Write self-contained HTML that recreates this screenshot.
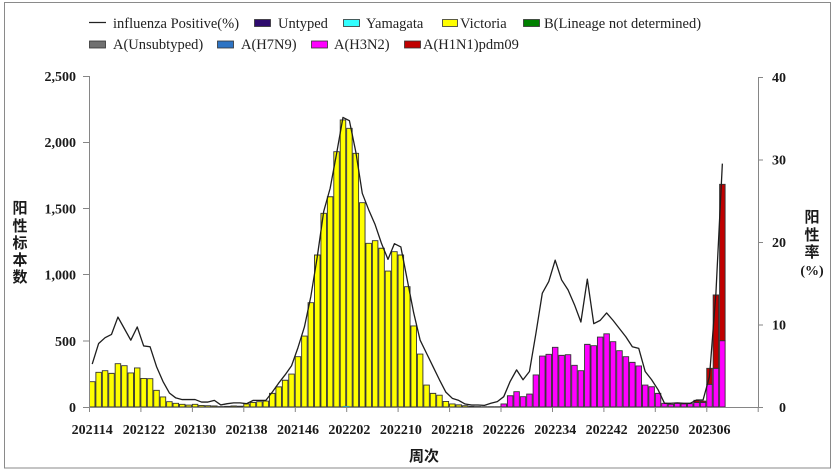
<!DOCTYPE html>
<html>
<head>
<meta charset="utf-8">
<style>
html,body{margin:0;padding:0;background:#fff;}
svg{display:block;}
.t{font-family:"Liberation Serif","Noto Serif CJK SC",serif;font-weight:bold;font-size:14px;fill:#1a1a1a;}
.lg{font-family:"Liberation Serif","Noto Serif CJK SC",serif;font-size:14.5px;fill:#222;}
.cj{font-family:"Liberation Sans","Noto Sans CJK SC",sans-serif;font-weight:bold;font-size:15px;fill:#1a1a1a;}
</style>
</head>
<body>
<svg width="835" height="473" viewBox="0 0 835 473" xmlns="http://www.w3.org/2000/svg">
<rect x="0" y="0" width="835" height="473" fill="#fff"/>
<rect x="4.5" y="2.5" width="826" height="465.5" fill="none" stroke="#8a8a8a" stroke-width="1"/>

<line x1="89" y1="22.5" x2="106" y2="22.5" stroke="#222" stroke-width="1.3"/>
<text class="lg" x="113" y="28">influenza Positive(%)</text>
<rect x="254.5" y="19.5" width="16" height="7" fill="#2e0b6e" stroke="#333" stroke-width="0.8"/>
<text class="lg" x="278" y="28">Untyped</text>
<rect x="343.5" y="19.5" width="16" height="7" fill="#33ffff" stroke="#333" stroke-width="0.8"/>
<text class="lg" x="366" y="28">Yamagata</text>
<rect x="442.5" y="19.5" width="15" height="7" fill="#ffff00" stroke="#333" stroke-width="0.8"/>
<text class="lg" x="460" y="28">Victoria</text>
<rect x="523.5" y="19.5" width="16" height="7" fill="#008000" stroke="#333" stroke-width="0.8"/>
<text class="lg" x="544" y="28">B(Lineage not determined)</text>

<rect x="89.5" y="41" width="16" height="7" fill="#707070" stroke="#333" stroke-width="0.8"/>
<text class="lg" x="113" y="49">A(Unsubtyped)</text>
<rect x="217.5" y="41" width="16" height="7" fill="#2e74c4" stroke="#333" stroke-width="0.8"/>
<text class="lg" x="241" y="49">A(H7N9)</text>
<rect x="311.5" y="41" width="16" height="7" fill="#ff00ff" stroke="#333" stroke-width="0.8"/>
<text class="lg" x="334" y="49">A(H3N2)</text>
<rect x="404.5" y="41" width="16" height="7" fill="#c00000" stroke="#333" stroke-width="0.8"/>
<text class="lg" x="423" y="49">A(H1N1)pdm09</text>

<g transform="translate(89,407) scale(6.43,-0.1324)" stroke="#333" stroke-width="0.9">
<g fill="#ffff00">
<rect vector-effect="non-scaling-stroke" x="0.07" y="0" width="0.86" height="191"/>
<rect vector-effect="non-scaling-stroke" x="1.07" y="0" width="0.86" height="262"/>
<rect vector-effect="non-scaling-stroke" x="2.07" y="0" width="0.86" height="274"/>
<rect vector-effect="non-scaling-stroke" x="3.07" y="0" width="0.86" height="254"/>
<rect vector-effect="non-scaling-stroke" x="4.07" y="0" width="0.86" height="327"/>
<rect vector-effect="non-scaling-stroke" x="5.07" y="0" width="0.86" height="312"/>
<rect vector-effect="non-scaling-stroke" x="6.07" y="0" width="0.86" height="257"/>
<rect vector-effect="non-scaling-stroke" x="7.07" y="0" width="0.86" height="295"/>
<rect vector-effect="non-scaling-stroke" x="8.07" y="0" width="0.86" height="216"/>
<rect vector-effect="non-scaling-stroke" x="9.07" y="0" width="0.86" height="214"/>
<rect vector-effect="non-scaling-stroke" x="10.07" y="0" width="0.86" height="126"/>
<rect vector-effect="non-scaling-stroke" x="11.07" y="0" width="0.86" height="76"/>
<rect vector-effect="non-scaling-stroke" x="12.07" y="0" width="0.86" height="40"/>
<rect vector-effect="non-scaling-stroke" x="13.07" y="0" width="0.86" height="28"/>
<rect vector-effect="non-scaling-stroke" x="14.07" y="0" width="0.86" height="20"/>
<rect vector-effect="non-scaling-stroke" x="15.07" y="0" width="0.86" height="15"/>
<rect vector-effect="non-scaling-stroke" x="16.07" y="0" width="0.86" height="20"/>
<rect vector-effect="non-scaling-stroke" x="17.07" y="0" width="0.86" height="12"/>
<rect vector-effect="non-scaling-stroke" x="18.07" y="0" width="0.86" height="10"/>
<rect vector-effect="non-scaling-stroke" x="19.07" y="0" width="0.86" height="8"/>
<rect vector-effect="non-scaling-stroke" x="20.07" y="0" width="0.86" height="3"/>
<rect vector-effect="non-scaling-stroke" x="21.07" y="0" width="0.86" height="5"/>
<rect vector-effect="non-scaling-stroke" x="22.07" y="0" width="0.86" height="8"/>
<rect vector-effect="non-scaling-stroke" x="23.07" y="0" width="0.86" height="6"/>
<rect vector-effect="non-scaling-stroke" x="24.07" y="0" width="0.86" height="23"/>
<rect vector-effect="non-scaling-stroke" x="25.07" y="0" width="0.86" height="35"/>
<rect vector-effect="non-scaling-stroke" x="26.07" y="0" width="0.86" height="40"/>
<rect vector-effect="non-scaling-stroke" x="27.07" y="0" width="0.86" height="45"/>
<rect vector-effect="non-scaling-stroke" x="28.07" y="0" width="0.86" height="103"/>
<rect vector-effect="non-scaling-stroke" x="29.07" y="0" width="0.86" height="152"/>
<rect vector-effect="non-scaling-stroke" x="30.07" y="0" width="0.86" height="202"/>
<rect vector-effect="non-scaling-stroke" x="31.07" y="0" width="0.86" height="249"/>
<rect vector-effect="non-scaling-stroke" x="32.07" y="0" width="0.86" height="380"/>
<rect vector-effect="non-scaling-stroke" x="33.07" y="0" width="0.86" height="536"/>
<rect vector-effect="non-scaling-stroke" x="34.07" y="0" width="0.86" height="788"/>
<rect vector-effect="non-scaling-stroke" x="35.07" y="0" width="0.86" height="1148"/>
<rect vector-effect="non-scaling-stroke" x="36.07" y="0" width="0.86" height="1463"/>
<rect vector-effect="non-scaling-stroke" x="37.07" y="0" width="0.86" height="1588"/>
<rect vector-effect="non-scaling-stroke" x="38.07" y="0" width="0.86" height="1928"/>
<rect vector-effect="non-scaling-stroke" x="39.07" y="0" width="0.86" height="2168"/>
<rect vector-effect="non-scaling-stroke" x="40.07" y="0" width="0.86" height="2105"/>
<rect vector-effect="non-scaling-stroke" x="41.07" y="0" width="0.86" height="1916"/>
<rect vector-effect="non-scaling-stroke" x="42.07" y="0" width="0.86" height="1543"/>
<rect vector-effect="non-scaling-stroke" x="43.07" y="0" width="0.86" height="1236"/>
<rect vector-effect="non-scaling-stroke" x="44.07" y="0" width="0.86" height="1256"/>
<rect vector-effect="non-scaling-stroke" x="45.07" y="0" width="0.86" height="1199"/>
<rect vector-effect="non-scaling-stroke" x="46.07" y="0" width="0.86" height="1027"/>
<rect vector-effect="non-scaling-stroke" x="47.07" y="0" width="0.86" height="1173"/>
<rect vector-effect="non-scaling-stroke" x="48.07" y="0" width="0.86" height="1148"/>
<rect vector-effect="non-scaling-stroke" x="49.07" y="0" width="0.86" height="909"/>
<rect vector-effect="non-scaling-stroke" x="50.07" y="0" width="0.86" height="612"/>
<rect vector-effect="non-scaling-stroke" x="51.07" y="0" width="0.86" height="400"/>
<rect vector-effect="non-scaling-stroke" x="52.07" y="0" width="0.86" height="166"/>
<rect vector-effect="non-scaling-stroke" x="53.07" y="0" width="0.86" height="103"/>
<rect vector-effect="non-scaling-stroke" x="54.07" y="0" width="0.86" height="89"/>
<rect vector-effect="non-scaling-stroke" x="55.07" y="0" width="0.86" height="42"/>
<rect vector-effect="non-scaling-stroke" x="56.07" y="0" width="0.86" height="23"/>
<rect vector-effect="non-scaling-stroke" x="57.07" y="0" width="0.86" height="16"/>
<rect vector-effect="non-scaling-stroke" x="58.07" y="0" width="0.86" height="10"/>
<rect vector-effect="non-scaling-stroke" x="59.07" y="0" width="0.86" height="5"/>
<rect vector-effect="non-scaling-stroke" x="60.07" y="0" width="0.86" height="3"/>
<rect vector-effect="non-scaling-stroke" x="61.07" y="0" width="0.86" height="2"/>
<rect vector-effect="non-scaling-stroke" x="62.07" y="0" width="0.86" height="2"/>
<rect vector-effect="non-scaling-stroke" x="63.07" y="0" width="0.86" height="2"/>
</g>
<g fill="#ff00ff">
<rect vector-effect="non-scaling-stroke" x="64.07" y="0" width="0.86" height="23"/>
<rect vector-effect="non-scaling-stroke" x="65.07" y="0" width="0.86" height="85"/>
<rect vector-effect="non-scaling-stroke" x="66.07" y="0" width="0.86" height="116"/>
<rect vector-effect="non-scaling-stroke" x="67.07" y="0" width="0.86" height="78"/>
<rect vector-effect="non-scaling-stroke" x="68.07" y="0" width="0.86" height="98"/>
<rect vector-effect="non-scaling-stroke" x="69.07" y="0" width="0.86" height="242"/>
<rect vector-effect="non-scaling-stroke" x="70.07" y="0" width="0.86" height="385"/>
<rect vector-effect="non-scaling-stroke" x="71.07" y="0" width="0.86" height="398"/>
<rect vector-effect="non-scaling-stroke" x="72.07" y="0" width="0.86" height="451"/>
<rect vector-effect="non-scaling-stroke" x="73.07" y="0" width="0.86" height="390"/>
<rect vector-effect="non-scaling-stroke" x="74.07" y="0" width="0.86" height="395"/>
<rect vector-effect="non-scaling-stroke" x="75.07" y="0" width="0.86" height="315"/>
<rect vector-effect="non-scaling-stroke" x="76.07" y="0" width="0.86" height="274"/>
<rect vector-effect="non-scaling-stroke" x="77.07" y="0" width="0.86" height="473"/>
<rect vector-effect="non-scaling-stroke" x="78.07" y="0" width="0.86" height="463"/>
<rect vector-effect="non-scaling-stroke" x="79.07" y="0" width="0.86" height="528"/>
<rect vector-effect="non-scaling-stroke" x="80.07" y="0" width="0.86" height="553"/>
<rect vector-effect="non-scaling-stroke" x="81.07" y="0" width="0.86" height="493"/>
<rect vector-effect="non-scaling-stroke" x="82.07" y="0" width="0.86" height="425"/>
<rect vector-effect="non-scaling-stroke" x="83.07" y="0" width="0.86" height="380"/>
<rect vector-effect="non-scaling-stroke" x="84.07" y="0" width="0.86" height="337"/>
<rect vector-effect="non-scaling-stroke" x="85.07" y="0" width="0.86" height="310"/>
<rect vector-effect="non-scaling-stroke" x="86.07" y="0" width="0.86" height="166"/>
<rect vector-effect="non-scaling-stroke" x="87.07" y="0" width="0.86" height="153"/>
<rect vector-effect="non-scaling-stroke" x="88.07" y="0" width="0.86" height="103"/>
<rect vector-effect="non-scaling-stroke" x="89.07" y="0" width="0.86" height="28"/>
<rect vector-effect="non-scaling-stroke" x="90.07" y="0" width="0.86" height="20"/>
<rect vector-effect="non-scaling-stroke" x="91.07" y="0" width="0.86" height="28"/>
<rect vector-effect="non-scaling-stroke" x="92.07" y="0" width="0.86" height="23"/>
<rect vector-effect="non-scaling-stroke" x="93.07" y="0" width="0.86" height="25"/>
<rect vector-effect="non-scaling-stroke" x="94.07" y="0" width="0.86" height="35"/>
<rect vector-effect="non-scaling-stroke" x="95.07" y="0" width="0.86" height="35"/>
<rect vector-effect="non-scaling-stroke" x="96.07" y="0" width="0.86" height="171"/>
<rect vector-effect="non-scaling-stroke" x="97.07" y="0" width="0.86" height="292"/>
<rect vector-effect="non-scaling-stroke" x="98.07" y="0" width="0.86" height="501"/>
</g>
<g fill="#c00000">
<rect vector-effect="non-scaling-stroke" x="94.07" y="35" width="0.86" height="15"/>
<rect vector-effect="non-scaling-stroke" x="95.07" y="35" width="0.86" height="10"/>
<rect vector-effect="non-scaling-stroke" x="96.07" y="171" width="0.86" height="121"/>
<rect vector-effect="non-scaling-stroke" x="97.07" y="292" width="0.86" height="554"/>
<rect vector-effect="non-scaling-stroke" x="98.07" y="501" width="0.86" height="1181"/>
</g>
<rect x="39.5" y="0" width="1" height="8" fill="#2e9fb0" stroke="none"/>
</g>

<g transform="translate(89,407) scale(6.43,-8.25)">
<polyline vector-effect="non-scaling-stroke" fill="none" stroke="#1e1e1e" stroke-width="1.3" stroke-linejoin="round"
points="0.5,5.2 1.5,7.7 2.5,8.4 3.5,8.8 4.5,10.9 5.5,9.5 6.5,8.1 7.5,9.7 8.5,7.4 9.5,7.3 10.5,4.9 11.5,3.1 12.5,1.7 13.5,1.1 14.5,0.9 15.5,0.9 16.5,0.9 17.5,0.6 18.5,0.6 19.5,0.8 20.5,0.25 21.5,0.4 22.5,0.5 23.5,0.5 24.5,0.4 25.5,0.8 26.5,0.8 27.5,0.8 28.5,1.8 29.5,2.9 30.5,3.9 31.5,5.0 32.5,7.2 33.5,9.7 34.5,13.4 35.5,18.2 36.5,23.7 37.5,26.5 38.5,30.7 39.5,35.1 40.5,34.7 41.5,30.9 42.5,25.9 43.5,23.9 44.5,22.1 45.5,19.8 46.5,17.9 47.5,19.8 48.5,19.4 49.5,15.4 50.5,11.4 51.5,8.1 52.5,6.5 53.5,4.9 54.5,3.3 55.5,1.8 56.5,1.05 57.5,0.8 58.5,0.36 59.5,0.24 60.5,0.24 61.5,0.2 62.5,0.45 63.5,0.65 64.5,1.25 65.5,3.1 66.5,4.5 67.5,3.3 68.5,4.3 69.5,8.9 70.5,13.8 71.5,15.2 72.5,17.8 73.5,15.4 74.5,14.2 75.5,12.4 76.5,10.3 77.5,15.5 78.5,10.1 79.5,10.5 80.5,11.4 81.5,10.5 82.5,9.5 83.5,8.5 84.5,7.3 85.5,7.1 86.5,4.3 87.5,3.3 88.5,2.1 89.5,0.45 90.5,0.45 91.5,0.5 92.5,0.45 93.5,0.45 94.5,0.85 95.5,0.85 96.5,3.7 97.5,13.8 98.5,29.5"/>
</g>

<g stroke="#868686" stroke-width="1" fill="none">
<line x1="89.5" y1="76" x2="89.5" y2="407.5"/>
<line x1="758.5" y1="77" x2="758.5" y2="407.5"/>
<line x1="89" y1="407.5" x2="763" y2="407.5"/>
<line x1="83" y1="76.5" x2="89" y2="76.5"/>
<line x1="83" y1="142.5" x2="89" y2="142.5"/>
<line x1="83" y1="208.5" x2="89" y2="208.5"/>
<line x1="83" y1="274.5" x2="89" y2="274.5"/>
<line x1="83" y1="341" x2="89" y2="341"/>
<line x1="83" y1="407.5" x2="89" y2="407.5"/>
<line x1="758" y1="77.5" x2="763" y2="77.5"/>
<line x1="758" y1="160" x2="763" y2="160"/>
<line x1="758" y1="242.5" x2="763" y2="242.5"/>
<line x1="758" y1="325" x2="763" y2="325"/>
<line x1="89.5" y1="407" x2="89.5" y2="412"/>
<line x1="140.9" y1="407" x2="140.9" y2="412"/>
<line x1="192.4" y1="407" x2="192.4" y2="412"/>
<line x1="243.8" y1="407" x2="243.8" y2="412"/>
<line x1="295.3" y1="407" x2="295.3" y2="412"/>
<line x1="346.7" y1="407" x2="346.7" y2="412"/>
<line x1="398.1" y1="407" x2="398.1" y2="412"/>
<line x1="449.6" y1="407" x2="449.6" y2="412"/>
<line x1="501" y1="407" x2="501" y2="412"/>
<line x1="552.5" y1="407" x2="552.5" y2="412"/>
<line x1="603.9" y1="407" x2="603.9" y2="412"/>
<line x1="655.3" y1="407" x2="655.3" y2="412"/>
<line x1="706.8" y1="407" x2="706.8" y2="412"/>
<line x1="758.2" y1="407" x2="758.2" y2="412"/>
</g>

<g class="t" text-anchor="end">
<text x="76" y="81">2,500</text>
<text x="76" y="147">2,000</text>
<text x="76" y="213.5">1,500</text>
<text x="76" y="279.5">1,000</text>
<text x="76" y="346">500</text>
<text x="76" y="412">0</text>
</g>
<g class="t" text-anchor="end">
<text x="786" y="82">40</text>
<text x="786" y="164.5">30</text>
<text x="786" y="247">20</text>
<text x="786" y="329.5">10</text>
<text x="786" y="412">0</text>
</g>
<g class="t" text-anchor="middle">
<text x="92.2" y="434">202114</text>
<text x="143.7" y="434">202122</text>
<text x="195.1" y="434">202130</text>
<text x="246.5" y="434">202138</text>
<text x="298" y="434">202146</text>
<text x="349.4" y="434">202202</text>
<text x="400.9" y="434">202210</text>
<text x="452.3" y="434">202218</text>
<text x="503.7" y="434">202226</text>
<text x="555.2" y="434">202234</text>
<text x="606.6" y="434">202242</text>
<text x="658.1" y="434">202250</text>
<text x="709.5" y="434">202306</text>
</g>

<g class="cj" text-anchor="middle">
<text x="20" y="213">阳</text>
<text x="20" y="231">性</text>
<text x="20" y="248">标</text>
<text x="20" y="265">本</text>
<text x="20" y="282">数</text>
<text x="812" y="222">阳</text>
<text x="812" y="240">性</text>
<text x="812" y="257">率</text>
<text x="424" y="461">周次</text>
</g>
<text class="t" x="812" y="275" text-anchor="middle">(%)</text>
</svg>
</body>
</html>
